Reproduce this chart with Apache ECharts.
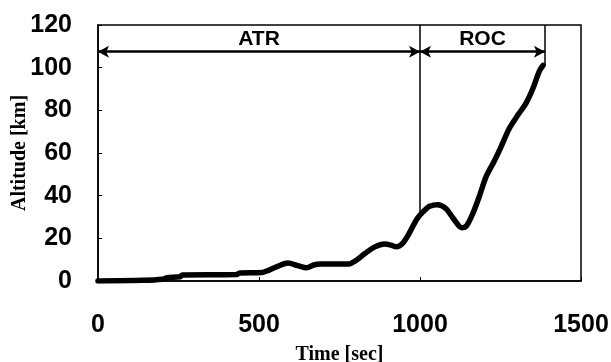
<!DOCTYPE html>
<html>
<head>
<meta charset="utf-8">
<script src="https://cdn.jsdelivr.net/npm/echarts@6/dist/echarts.min.js"></script>
<style>
  html, body { margin: 0; padding: 0; background: #fff; }
  #chart { width: 611px; height: 362px; }
</style>
</head>
<body>
<div id="chart"></div>
<script>
var times = [0, 140, 200, 215, 255, 262, 430, 440, 510, 530, 560, 590, 620, 648, 670, 690,
             780, 800, 830, 860, 890, 910, 927, 945, 965, 990, 1010, 1030, 1055, 1080, 1105,
             1130, 1145, 1165, 1185, 1205, 1230, 1252, 1278, 1305, 1329, 1350, 1371, 1382];
var altitude = [0, 0.3, 0.8, 1.5, 2, 2.8, 3, 3.8, 4, 5, 7, 8.4, 7.2, 6.2, 7.5, 8,
                8, 9.5, 13, 16, 17.3, 16.8, 16, 17.5, 22, 29, 32.5, 35, 35.8, 34, 29,
                25, 26, 32, 40, 48.8, 56, 63, 71.7, 78, 83.3, 90, 98.5, 101];

// phase boundaries (ATR: 0-1000, ROC: 1000-1388)
var phaseNames = ['ATR', 'ROC'];
var phaseBounds = [0, 1000, 1388];
var arrowLevel = 107.5;
var dividerBottoms = [30, 101];
var yMax = 120;

var xTicks = [0, 500, 1000, 1500];
var yTicks = [0, 20, 40, 60, 80, 100, 120];

var chart = echarts.init(document.getElementById('chart'));

var trajectory = times.map(function (t, i) { return [t, altitude[i]]; });

var arrows = phaseNames.map(function (name, i) {
    return [
        { coord: [phaseBounds[i], arrowLevel], name: name },
        { coord: [phaseBounds[i + 1], arrowLevel] }
    ];
});
var dividers = dividerBottoms.map(function (bottom, i) {
    return [
        { coord: [phaseBounds[i + 1], yMax] },
        { coord: [phaseBounds[i + 1], bottom] }
    ];
});

var tickFont = { fontFamily: 'Liberation Sans, Arial, sans-serif', fontWeight: 'bold', fontSize: 25, color: '#000' };
var nameFont = { fontFamily: 'Liberation Serif, Times New Roman, serif', fontWeight: 'bold', fontSize: 20, color: '#000' };

var option = {
    animation: false,
    backgroundColor: '#fff',
    grid: {
        left: 98, right: 30, top: 25, bottom: 81,
        outerBoundsMode: 'none',
        containLabel: false,
        show: true, borderColor: '#000', borderWidth: 1.5
    },
    xAxis: {
        type: 'value',
        min: 0, max: 1500, interval: 500,
        name: 'Time [sec]',
        nameLocation: 'middle',
        nameGap: 64,
        nameMoveOverlap: false,
        nameTextStyle: nameFont,
        axisLine: { lineStyle: { color: '#000', width: 1.5 } },
        axisTick: { inside: true, length: 4, lineStyle: { color: '#000' } },
        axisLabel: Object.assign({ margin: 32 }, tickFont, {
            formatter: function (v) { return xTicks.indexOf(v) >= 0 ? v : ''; }
        }),
        splitLine: { show: false }
    },
    yAxis: {
        type: 'value',
        min: 0, max: yMax, interval: 20,
        name: 'Altitude [km]',
        nameLocation: 'middle',
        nameGap: 68,
        nameMoveOverlap: false,
        nameRotate: 90,
        nameTextStyle: nameFont,
        axisLine: { show: true, lineStyle: { color: '#000', width: 1.5 } },
        axisTick: { show: true, inside: true, length: 4, lineStyle: { color: '#000' } },
        axisLabel: Object.assign({ margin: 26 }, tickFont, {
            formatter: function (v) { return yTicks.indexOf(v) >= 0 ? v : ''; }
        }),
        splitLine: { show: false }
    },
    series: [{
        type: 'line',
        data: trajectory,
        smooth: 0.3,
        showSymbol: false,
        lineStyle: { color: '#000', width: 5.5, cap: 'round', join: 'round' },
        markLine: {
            silent: true,
            animation: false,
            symbol: ['none', 'none'],
            lineStyle: { color: '#000', width: 1.5, type: 'solid' },
            label: { show: false },
            data: dividers
        }
    }, {
        type: 'line',
        data: [],
        markLine: {
            silent: true,
            animation: false,
            symbol: ['arrow', 'arrow'],
            symbolSize: [9, 11],
            lineStyle: { color: '#000', width: 2.5, type: 'solid' },
            label: {
                show: true,
                position: 'insideMiddleTop',
                distance: 2,
                formatter: '{b}',
                fontFamily: 'Liberation Sans, Arial, sans-serif',
                fontWeight: 'bold',
                fontSize: 21,
                color: '#000'
            },
            data: arrows
        }
    }]
};
chart.setOption(option);
</script>
</body>
</html>
